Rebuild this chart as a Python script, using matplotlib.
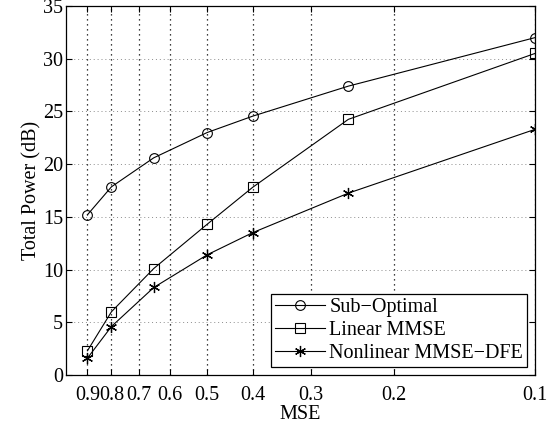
import matplotlib
matplotlib.use("Agg")
import matplotlib.pyplot as plt
from matplotlib.ticker import FixedLocator, FixedFormatter, NullLocator

plt.rcParams['font.family'] = ['Liberation Serif', 'DejaVu Serif']

mse = [0.9, 0.8, 0.65, 0.5, 0.4, 0.25, 0.1]
sub_optimal = [15.2, 17.85, 20.6, 23.0, 24.55, 27.4, 32.0]
linear_mmse = [2.3, 6.0, 10.1, 14.3, 17.8, 24.25, 30.5]
nonlinear_dfe = [1.6, 4.6, 8.3, 11.4, 13.5, 17.25, 23.3]

xticks = [0.9, 0.8, 0.7, 0.6, 0.5, 0.4, 0.3, 0.2, 0.1]
xlabels = ['0.9', '0.8', '0.7', '0.6', '0.5', '0.4', '0.3', '0.2', '0.1']

fs = 14.5
fig = plt.figure(figsize=(5.6, 4.28), dpi=100)
ax = fig.add_axes([66 / 560, 1 - 375 / 428, (535 - 66) / 560, (375 - 6) / 428])

star = (6, 2, 0)
ax.plot(mse, sub_optimal, '-o', color='k', lw=0.8, ms=7, mfc='none', mew=0.8, label='Sub\u2212Optimal')
ax.plot(mse, linear_mmse, '-s', color='k', lw=0.8, ms=6.5, mfc='none', mew=0.8, label='Linear MMSE')
ax.plot(mse, nonlinear_dfe, '-', marker=star, color='k', lw=0.8, ms=8, mew=0.9, label='Nonlinear MMSE\u2212DFE')

ax.set_xscale('log')
ax.set_xlim(1, 0.1)
ax.set_ylim(0, 35)
ax.xaxis.set_major_locator(FixedLocator(xticks))
ax.xaxis.set_major_formatter(FixedFormatter(xlabels))
ax.xaxis.set_minor_locator(NullLocator())
ax.set_yticks(range(0, 36, 5))

ax.tick_params(direction='in', top=True, right=True, labelsize=fs, length=4, width=0.8)
ax.tick_params(axis='x', pad=8)
ax.tick_params(axis='y', pad=2)
for s in ax.spines.values():
    s.set_linewidth(0.9)

ax.grid(True, axis='x', linestyle=(0, (1, 3)), color='k', lw=0.9)
ax.grid(True, axis='y', linestyle=(0, (1, 3)), color='0.55', lw=0.7)

ax.set_xlabel('MSE', fontsize=fs, labelpad=0)
ax.set_ylabel('Total Power (dB)', fontsize=fs, labelpad=1)

leg = ax.legend(loc='lower right', fontsize=fs, fancybox=False, framealpha=1,
                edgecolor='k', borderpad=0.2, labelspacing=0.2, handlelength=2.5,
                handletextpad=0.2, borderaxespad=0.4)
leg.get_frame().set_linewidth(0.9)

fig.savefig('out.png', dpi=100)
